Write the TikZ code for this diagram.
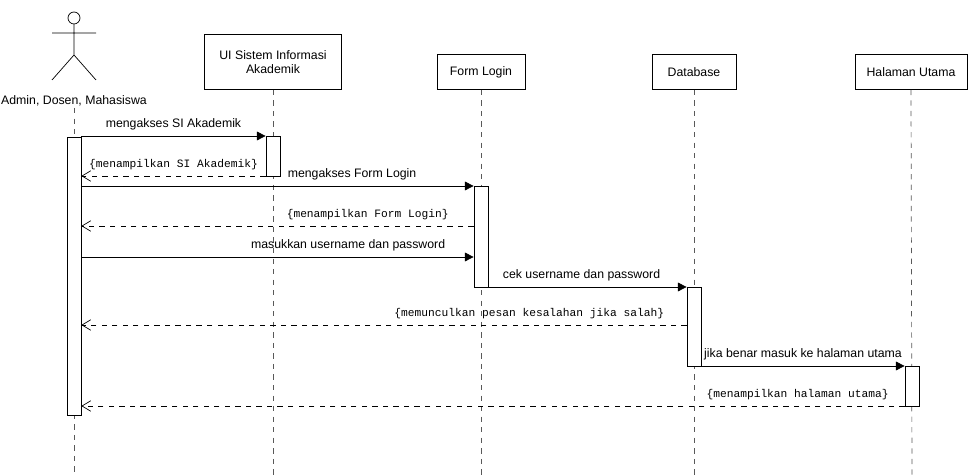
\documentclass[tikz,border=0pt]{standalone}
\usepackage{fontspec}
\setmainfont{Liberation Sans}
\setmonofont{Liberation Mono}
\usetikzlibrary{positioning,calc,arrows.meta}
\begin{document}
\begin{tikzpicture}[x=0.02cm,y=-0.02cm,font=\fontsize{7}{8}\selectfont,
    obj/.style={draw,fill=white,minimum height=1.1cm,align=center},
    act/.style={draw,fill=white,minimum width=0.28cm,anchor=north},
    life/.style={dashed,gray!70!black},
    call/.style={-{Triangle[length=5pt,width=5pt]}},
    reply/.style={dashed,-{Straight Barb[length=5pt,width=6pt]}},
    mono/.style={font=\ttfamily\fontsize{6.4}{8}\selectfont}]
\useasboundingbox (0,0) rectangle (971,475);
%Objects
    \node[obj,minimum width=2.74cm] (UI) at (273,62) {UI Sistem Informasi\\Akademik};
    \node[obj,minimum width=1.76cm,minimum height=0.7cm] (FL) at (481,72) {Form Login};
    \node[obj,minimum width=1.68cm,minimum height=0.7cm] (DB) at (694,72) {Database};
    \node[obj,minimum width=2.24cm,minimum height=0.7cm] (HU) at (911,72) {Halaman Utama};
%Actor
    \draw (74,18) circle (6);
    \draw (74,24) -- (74,55) (52,33) -- (96,33) (52,80) -- (74,55) -- (96,80);
    \node (A) at (74,101) {Admin, Dosen, Mahasiswa};
%Lifelines
    \draw[life] (74,108) -- (74,475);
    \foreach \n/\x in {UI/273,FL/481,DB/694,HU/912}
        \draw[life] (\n.south) -- (\x,475);
%Activations
    \node[act,minimum height=5.56cm] (aA) at (74,137) {};
    \node[act,minimum height=0.8cm] (aUI) at (273,136) {};
    \node[act,minimum height=2.02cm] (aFL) at (481,186) {};
    \node[act,minimum height=1.58cm] (aDB) at (694,287) {};
    \node[act,minimum height=0.8cm] (aHU) at (912,366) {};
%Messages
    \draw[call] (aA.east |- 0,136) -- node[above] {mengakses SI Akademik} (aUI.west |- 0,136);
    \draw[reply] (aUI.west |- 0,176) -- node[above,mono] {\{menampilkan SI Akademik\}} (aA.east |- 0,176);
    \draw[call] (aA.east |- 0,186) -- node[above,pos=0.69] {mengakses Form Login} (aFL.west |- 0,186);
    \draw[reply] (aFL.west |- 0,226) -- node[above,mono,pos=0.27] {\{menampilkan Form Login\}} (aA.east |- 0,226);
    \draw[call] (aA.east |- 0,257) -- node[above,pos=0.68] {masukkan username dan password} (aFL.west |- 0,257);
    \draw[call] (aFL.east |- 0,287) -- node[above,pos=0.47] {cek username dan password} (aDB.west |- 0,287);
    \draw[reply] (aDB.west |- 0,325) -- node[above,mono,pos=0.26] {\{memunculkan pesan kesalahan jika salah\}} (aA.east |- 0,325);
    \draw[call] (aDB.east |- 0,366) -- node[above] {jika benar masuk ke halaman utama} (aHU.west |- 0,366);
    \draw[reply] (aHU.west |- 0,406) -- node[above,mono,pos=0.13] {\{menampilkan halaman utama\}} (aA.east |- 0,406);
\end{tikzpicture}
\end{document}
